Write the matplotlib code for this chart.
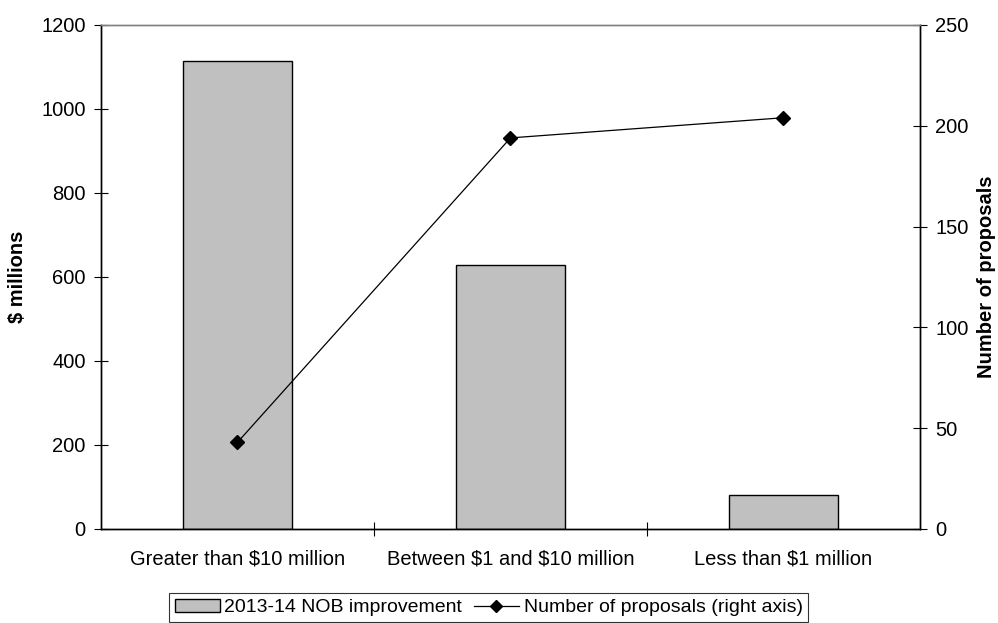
import matplotlib
matplotlib.use("Agg")
import matplotlib.pyplot as plt
from matplotlib.lines import Line2D
from matplotlib.patches import Patch

categories = ["Greater than \\$10 million", "Between \\$1 and \\$10 million", "Less than \\$1 million"]
nob_improvement = [1115, 628, 81]
num_proposals = [43, 194, 204]
left_ticks = [0, 200, 400, 600, 800, 1000, 1200]
right_ticks = [0, 50, 100, 150, 200, 250]

plt.rcParams['font.family'] = ['Liberation Sans', 'DejaVu Sans']
FS = 14.5

fig = plt.figure(figsize=(9.98, 6.23), dpi=100)
ax = fig.add_axes([101/998, 1-529/623, (920-101)/998, (529-25)/623])
ax2 = ax.twinx()

x = list(range(len(categories)))
ax.bar(x, nob_improvement, width=0.4, color='#c0c0c0', edgecolor='black', linewidth=1.0, zorder=2)
ax.set_xlim(-0.5, 2.5)
ax.set_ylim(0, 1200)
ax.set_yticks(left_ticks)
ax.set_xticks(x)
ax.set_xticklabels(categories, fontsize=FS)
ax.tick_params(axis='x', length=0, pad=15)
ax.set_xticks([0.5, 1.5], minor=True)
ax.tick_params(axis='x', which='minor', direction='inout', length=10, width=0.8)
ax.tick_params(axis='y', direction='inout', length=10, width=0.8, labelsize=FS, pad=6)
ax.set_ylabel("\\$ millions", fontsize=FS, fontweight='bold')
ax.yaxis.label.set_va('center')
ax.yaxis.set_label_coords((18-101)/819, 0.5)

ax2.plot(x, num_proposals, color='black', linewidth=0.9, marker='D', markersize=7, zorder=3)
ax2.set_ylim(0, 250)
ax2.set_yticks(right_ticks)
ax2.tick_params(axis='y', direction='inout', length=10, width=0.8, labelsize=FS, pad=6)
ax2.set_ylabel("Number of proposals", fontsize=FS, fontweight='bold')
ax2.yaxis.label.set_va('center')
ax2.yaxis.set_label_coords((987-101)/819, 0.5)

for a in (ax, ax2):
    for s in a.spines.values():
        s.set_linewidth(1.0)
        s.set_color('black')
    a.spines['top'].set_color('#808080')

handles = [Patch(facecolor='#c0c0c0', edgecolor='black', linewidth=1.0, label='2013-14 NOB improvement'),
           Line2D([0], [0], color='black', linewidth=0.9, marker='D', markersize=6,
                  label='Number of proposals (right axis)')]
leg = fig.legend(handles=handles, loc='lower left', bbox_to_anchor=(168/998, 0.0),
                 ncol=2, frameon=True, fancybox=False, edgecolor='black', fontsize=14,
                 handlelength=2.3, handleheight=0.6, handletextpad=0.25, columnspacing=0.6,
                 borderpad=0.3, borderaxespad=0.05)
leg.get_frame().set_linewidth(0.8)

fig.savefig("out.png", dpi=100)
